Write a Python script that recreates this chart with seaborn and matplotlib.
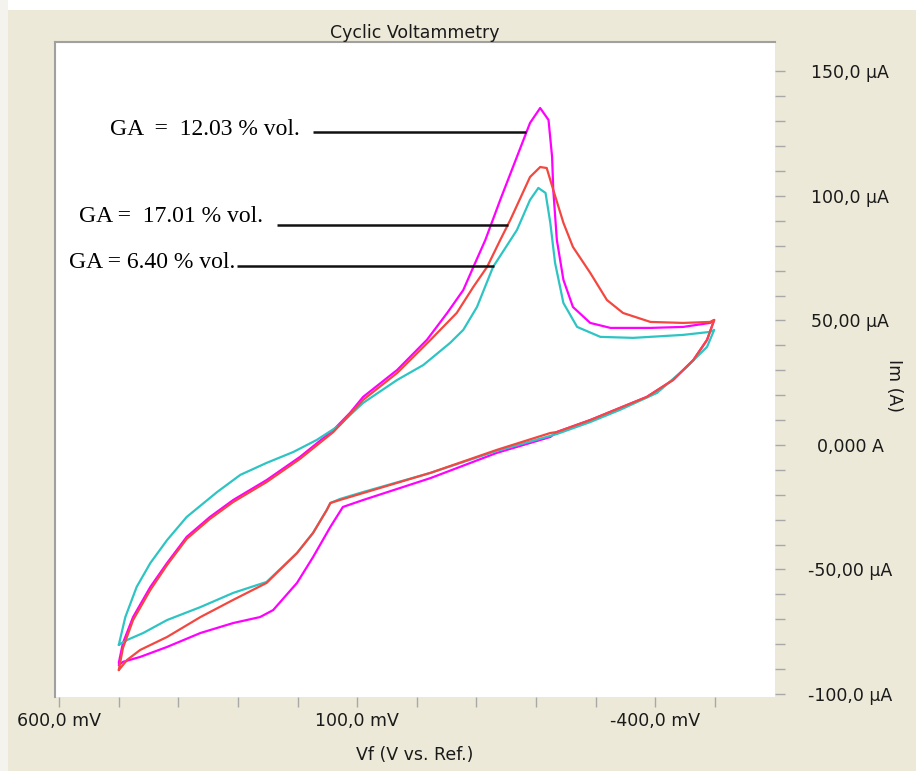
import matplotlib
matplotlib.use('Agg')
import matplotlib.pyplot as plt
from matplotlib.patches import Rectangle
from matplotlib.ticker import FixedLocator
import numpy as np
import pandas as pd
import seaborn as sns

# potential in mV, current in uA (upper branch then return branch)
ga_1203_v = [500, 493, 476, 447, 419, 386, 347, 308, 252, 196, 140, 112, 90, 33, -17, -51, -78, -95, -115, -140,
             -168, -190, -207, -221, -227, -229, -235, -246, -262, -291, -325, -392, -447, -492, -499,
             -487, -464, -430, -386, -341, -291, -235, -224, -134, -23, 90, 124, 145, 174, 201, 241, 263, 308, 363,
             419, 464, 493, 500]
ga_1203_i = [-87.5, -79.5, -69.1, -57.0, -47.4, -36.9, -28.9, -22.1, -14.1, -4.8, 6.0, 12.9, 19.3, 30.1, 42.2, 53.0,
             62.2, 71.5, 82.3, 98.4, 115.7, 129.3, 135.3, 130.5, 115.7, 102.4, 82.3, 66.3, 55.4, 49.0, 47.0, 47.0,
             47.4, 49.0, 50.2,
             42.2, 34.1, 26.1, 19.3, 14.9, 10.0, 5.2, 3.2, -3.2, -13.3, -22.1, -24.9, -32.9, -45.0, -55.4, -66.3,
             -69.1, -71.5, -75.5, -81.1, -85.1, -87.1, -88.4]

ga_1701_v = [500, 493, 476, 447, 419, 386, 347, 308, 252, 196, 140, 90, 33, -23, -67, -95, -118, -140, -157, -190,
             -207, -218, -229, -246, -262, -291, -319, -346, -392, -447, -492, -499,
             -487, -464, -430, -386, -341, -291, -235, -224, -134, -23, 90, 129, 145, 151, 174, 201, 252, 308, 363,
             419, 464, 486, 500]
ga_1701_i = [-90.4, -81.5, -70.3, -58.2, -48.2, -37.7, -29.7, -22.9, -14.9, -5.6, 5.2, 18.1, 28.9, 42.2, 53.0, 63.5,
             71.5, 82.3, 90.4, 107.6, 111.6, 111.2, 102.4, 89.2, 79.5, 69.1, 58.2, 53.0, 49.4, 49.0, 49.4, 50.2,
             42.2, 34.1, 26.1, 19.3, 14.9, 10.0, 5.2, 4.8, -2.0, -11.2, -19.3, -22.1, -23.3, -26.1, -35.3, -43.4,
             -55.4, -62.2, -69.1, -77.1, -82.3, -86.3, -90.4]

ga_640_v = [500, 489, 470, 447, 419, 386, 335, 296, 252, 207, 168, 129, 112, 90, 33, -11, -56, -78, -101, -128,
            -151, -168, -190, -204, -216, -224, -232, -246, -269, -308, -363, -447, -492, -499,
            -487, -453, -403, -341, -291, -235, -134, -23, 90, 129, 145, 151, 174, 201, 252, 308, 363, 419, 459,
            486, 500]
ga_640_i = [-80.3, -69.1, -57.0, -47.4, -38.2, -28.9, -18.9, -12.0, -7.2, -2.8, 2.0, 8.0, 12.0, 16.9, 26.1, 32.1,
            41.0, 46.2, 55.4, 71.5, 80.0, 86.3, 98.4, 103.2, 101.2, 89.2, 73.1, 57.0, 47.4, 43.4, 43.0, 44.2, 45.4,
            46.2,
            39.4, 31.3, 20.9, 14.1, 9.2, 4.4, -2.4, -11.2, -18.9, -21.7, -23.3, -26.1, -35.3, -43.4, -55.0, -59.4,
            -65.1, -70.3, -75.5, -78.3, -80.3]

series_names = ['12.03', '6.40', '17.01']
series_colors = ['#FF00FF', '#2EC4C4', '#F4473F']

# annotation labels: text, text anchor, leader line level
label_texts = ['GA  =  12.03 % vol.', 'GA =  17.01 % vol.', 'GA = 6.40 % vol.']
label_series = ['12.03', '17.01', '6.40']
label_text_v = [196, 258, 305]
label_text_i = [126.5, 91.7, 73.1]
line_start_v = [174, 235, 302]
line_level_i = [125.6, 88.4, 72.0]

x_ticks = [600, 100, -400]
x_ticklabels = ['600,0 mV', '100,0 mV', '-400,0 mV']
y_ticks = [150, 100, 50, 0, -50, -100]
y_ticklabels = ['150,0 µA', '100,0 µA', '50,00 µA', '0,000 A', '-50,00 µA', '-100,0 µA']

curves = {'12.03': (ga_1203_v, ga_1203_i), '17.01': (ga_1701_v, ga_1701_i), '6.40': (ga_640_v, ga_640_i)}
frames = []
for name in series_names:
    v, i = curves[name]
    frames.append(pd.DataFrame({'potential': v, 'current': i, 'series': name}))
df = pd.concat(frames, ignore_index=True)

sns.set_theme(style='white')
plt.rcParams['font.family'] = ['DejaVu Sans']
bg = '#ECE9D8'

fig = plt.figure(figsize=(9.16, 7.71), dpi=100, facecolor=bg)
fig.patches.append(Rectangle((0, 1 - 10 / 771), 1, 10 / 771, transform=fig.transFigure,
                             facecolor='white', edgecolor='none'))
fig.patches.append(Rectangle((0, 0), 8 / 916, 1, transform=fig.transFigure,
                             facecolor='#F4F3EE', edgecolor='none'))

ax = fig.add_axes([55 / 916, 1 - 697 / 771, 720 / 916, 655 / 771])
ax.set_facecolor('white')

sns.lineplot(data=df, x='potential', y='current', hue='series', hue_order=series_names,
             palette=dict(zip(series_names, series_colors)), sort=False, estimator=None,
             linewidth=1.6, legend=False, ax=ax)

# leader lines end on the rising part of each curve
for k, txt in enumerate(label_texts):
    v, i = curves[label_series[k]]
    peak = int(np.argmax(i))
    end_v = np.interp(line_level_i[k], i[:peak + 1], v[:peak + 1])
    ax.hlines(line_level_i[k], line_start_v[k], end_v, color='#111111', linewidth=1.8)
    ax.text(label_text_v[k], label_text_i[k], txt, ha='right', va='center',
            fontsize=17, family='Liberation Serif', color='black')

ax.set_xlim(607, -601)
ax.set_ylim(-101.2, 161.8)

ax.xaxis.set_major_locator(FixedLocator(x_ticks))
ax.xaxis.set_minor_locator(FixedLocator([500, 400, 300, 200, 0, -100, -200, -300, -500]))
ax.set_xticklabels(x_ticklabels)
ax.yaxis.tick_right()
ax.yaxis.set_major_locator(FixedLocator(y_ticks))
ax.yaxis.set_minor_locator(FixedLocator([t for t in range(-90, 160, 10) if t % 50 != 0]))
ax.set_yticklabels(y_ticklabels)

ax.tick_params(axis='both', which='both', direction='out', length=7, width=1,
               color='#a8a8a8', labelsize=12.5, labelcolor='#1a1a1a')
ax.tick_params(axis='x', which='both', pad=4, bottom=True)
ax.tick_params(axis='y', which='both', pad=47, right=True, left=False)
for lab in ax.get_yticklabels():
    lab.set_horizontalalignment('center')

for side in ['bottom', 'right']:
    ax.spines[side].set_visible(False)
for side in ['top', 'left']:
    ax.spines[side].set_color('#a0a0a0')
    ax.spines[side].set_linewidth(1.5)

ax.set_title('Cyclic Voltammetry', fontsize=12.5, color='#1a1a1a', pad=0)
ax.set_xlabel('Vf (V vs. Ref.)', fontsize=12.5, color='#1a1a1a', labelpad=11)
ax.yaxis.set_label_position('right')
ax.set_ylabel('Im (A)', fontsize=12.5, color='#1a1a1a', rotation=-90)
ax.yaxis.set_label_coords(1.178, 0.475)

fig.savefig('out.png', dpi=100, facecolor=fig.get_facecolor())
